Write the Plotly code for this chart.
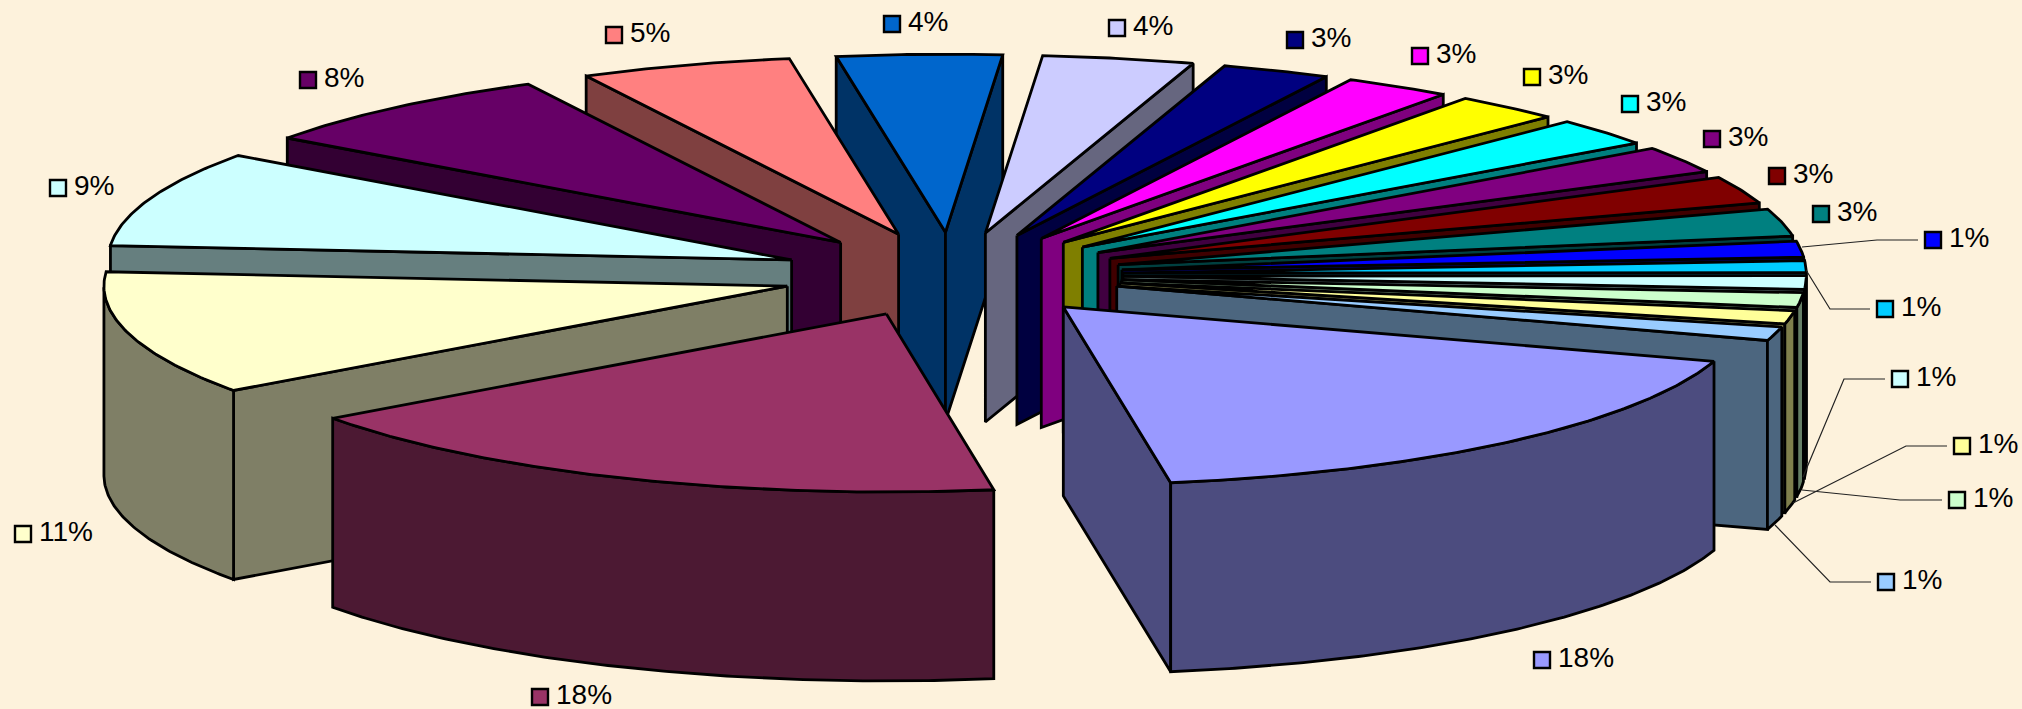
import math
import plotly.graph_objects as go

# ---- data ----
SHARES = [17.54, 17.54, 11.25, 8.69, 7.46, 5.0, 3.89, 3.58, 2.56, 2.53, 2.54, 2.5,
          2.44, 2.47, 2.47, 1.44, 1.08, 1.22, 1.33, 1.19, 1.25]
LABELS = ["18%", "18%", "11%", "9%", "8%", "5%", "4%", "4%", "3%", "3%", "3%", "3%",
          "3%", "3%", "3%", "1%", "1%", "1%", "1%", "1%", "1%"]
COLORS = ["#9999FF", "#993366", "#FFFFCC", "#CCFFFF", "#660066", "#FF8080", "#0066CC",
          "#CCCCFF", "#000080", "#FF00FF", "#FFFF00", "#00FFFF", "#800080", "#800000",
          "#008080", "#0000FF", "#00CCFF", "#CCFFFF", "#CCFFCC", "#FFFF99", "#99CCFF"]

# ---- layout of the drawing ----
W, H = 2022, 709
BG = "#FDF2DC"
CX, CY = 952.0, 274.7      # pie centre
RX, RY = 683.4, 178.0      # projected radii
DEPTH = 189.0              # wall height
EX, EY = 171.0, 42.5       # projected explosion offset
START = 17.8               # first slice start angle, degrees clockwise from 3 o'clock
LINE = 2.8
FONT = 28

LABEL_AT = [(1542, 660), (540, 697), (23, 534), (58, 188), (308, 80), (614, 35), (892, 24),
            (1117, 28), (1295, 40), (1420, 56), (1532, 77), (1630, 104), (1712, 139),
            (1777, 176), (1821, 214), (1933, 240), (1885, 309), (1900, 379), (1957, 500),
            (1962, 446), (1886, 582)]
LEADERS = {15: [(1802, 247), (1877, 240), (1918, 240)],
           16: [(1806, 270), (1830, 309), (1870, 309)],
           17: [(1803, 477), (1844, 379), (1885, 379)],
           18: [(1802, 490), (1900, 500), (1942, 500)],
           19: [(1793, 503), (1906, 446), (1947, 446)],
           20: [(1775, 525), (1830, 582), (1871, 582)]}


def darken(c):
    r, g, b = int(c[1:3], 16), int(c[3:5], 16), int(c[5:7], 16)
    return f"rgb({r // 2},{g // 2},{b // 2})"


def face(xs, ys, color):
    return go.Scatter(x=xs, y=ys, mode="lines", fill="toself", fillcolor=color,
                      line=dict(color="black", width=LINE, shape="linear"),
                      hoverinfo="skip", showlegend=False)


total = sum(SHARES)
slices = []
a = START
for i, s in enumerate(SHARES):
    span = s / total * 360
    slices.append((i, a, a + span))
    a += span

fig = go.Figure()
for i, t0, t1 in sorted(slices, key=lambda q: math.sin(math.radians((q[1] + q[2]) / 2))):
    mid = math.radians((t0 + t1) / 2)
    tx, ty = CX + EX * math.cos(mid), CY + EY * math.sin(mid)
    col, dark = COLORS[i], darken(COLORS[i])
    n = max(3, int((t1 - t0) * 2))
    th = [math.radians(t0 + (t1 - t0) * k / n) for k in range(n + 1)]
    rimx = [tx + RX * math.cos(t) for t in th]
    rimy = [ty + RY * math.sin(t) for t in th]
    # radial walls that face the viewer
    for t, vis in ((th[0], math.cos(th[0]) < 0), (th[-1], math.cos(th[-1]) > 0)):
        if vis:
            ex, ey = tx + RX * math.cos(t), ty + RY * math.sin(t)
            fig.add_trace(face([tx, ex, ex, tx, tx], [ty, ey, ey + DEPTH, ty + DEPTH, ty], dark))
    # outer wall, front half only
    fr = [k for k, t in enumerate(th) if math.sin(t) > 0]
    if fr:
        fx = [rimx[k] for k in fr]
        fy = [rimy[k] for k in fr]
        fig.add_trace(face(fx + fx[::-1] + fx[:1],
                           fy + [v + DEPTH for v in fy[::-1]] + fy[:1], dark))
    # top
    fig.add_trace(face([tx] + rimx + [tx], [ty] + rimy + [ty], col))

# leader lines
for i, pts in LEADERS.items():
    fig.add_trace(go.Scatter(x=[p[0] for p in pts], y=[p[1] for p in pts], mode="lines",
                             line=dict(color="#222222", width=1.2),
                             hoverinfo="skip", showlegend=False))

# colour keys
fig.add_trace(go.Scatter(
    x=[p[0] for p in LABEL_AT], y=[p[1] for p in LABEL_AT], mode="markers",
    marker=dict(symbol="square", size=16, color=COLORS, line=dict(color="black", width=2.4)),
    hoverinfo="skip", showlegend=False))
# label texts
fig.add_trace(go.Scatter(
    x=[p[0] + 16 for p in LABEL_AT], y=[p[1] for p in LABEL_AT], mode="text",
    text=LABELS, textposition="middle right",
    textfont=dict(family="Liberation Sans, Arial, sans-serif", size=FONT, color="black"),
    hoverinfo="skip", showlegend=False))

fig.update_layout(
    width=W, height=H, autosize=False,
    margin=dict(l=0, r=0, t=0, b=0, pad=0),
    paper_bgcolor=BG, plot_bgcolor=BG, showlegend=False,
    xaxis=dict(range=[0, W], visible=False, fixedrange=True),
    yaxis=dict(range=[H, 0], visible=False, fixedrange=True),
)
fig.write_html("out.html", config={"displayModeBar": False},
               post_script="document.body.style.margin='0';document.body.style.background='%s';" % BG)
